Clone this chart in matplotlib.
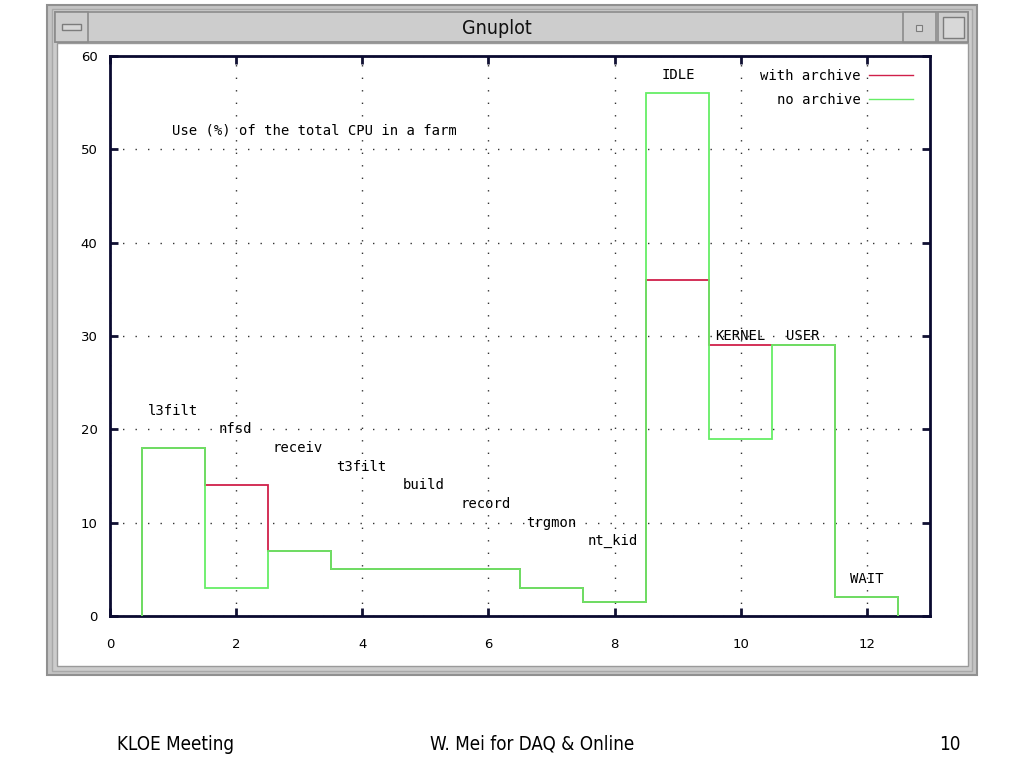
import numpy as np
import matplotlib
matplotlib.use("Agg")
import matplotlib.pyplot as plt
from matplotlib.patches import Rectangle
from matplotlib.lines import Line2D

# CPU use per process (%), one bin per process, centred on 1..12
processes = ["l3filt", "nfsd", "receiv", "t3filt", "build", "record",
             "trgmon", "nt_kid", "IDLE", "KERNEL", "USER", "WAIT"]
bins = np.arange(1, 13)
with_archive = [18, 14, 7, 5, 5, 5, 3, 1.5, 36, 29, 29, 2]
no_archive = [18, 3, 7, 5, 5, 5, 3, 1.5, 56, 19, 29, 2]

# where gnuplot put the process names (data coords, left aligned)
label_x = [0.6, 1.73, 2.57, 3.58, 4.64, 5.55, 6.59, 7.57, 8.75, 9.59, 10.71, 11.73]
label_y = [22, 20, 18, 16, 14, 12, 10, 8, 58, 30, 30, 4]

RED = "#d0204a"
GREEN = "#66ee66"
MONO = "DejaVu Sans Mono"

fig = plt.figure(figsize=(10.24, 7.68), dpi=100)
fig.patch.set_facecolor("white")

# --- window decoration, drawn in pixel coords ---
bg = fig.add_axes([0, 0, 1, 1])
bg.set_xlim(0, 1024)
bg.set_ylim(768, 0)
bg.axis("off")


def box(x0, y0, x1, y1, fc, ec="#8a8a8a", lw=1.2, z=1):
    bg.add_patch(Rectangle((x0, y0), x1 - x0, y1 - y0, facecolor=fc,
                           edgecolor=ec, linewidth=lw, zorder=z))


box(47, 5, 977, 675, "#c4c4c4", ec="#909090", lw=1.5)
box(52, 9, 972, 671, "#cccccc", ec="#a8a8a8", lw=1.0)
box(57, 43, 968, 666, "white", ec="#9a9a9a", lw=1.0, z=2)
box(55, 12, 968, 42, "#cdcdcd", ec="#8c8c8c", lw=1.2, z=2)
box(55, 12, 88, 42, "#cdcdcd", ec="#8c8c8c", lw=1.2, z=3)
box(62, 24, 81, 30, "#d8d8d8", ec="#7c7c7c", lw=1.0, z=4)
box(903, 12, 936, 42, "#cdcdcd", ec="#8c8c8c", lw=1.2, z=3)
box(916, 25, 922, 31, "#d8d8d8", ec="#7c7c7c", lw=0.8, z=4)
box(938, 12, 968, 42, "#cdcdcd", ec="#8c8c8c", lw=1.2, z=3)
box(943, 17, 964, 38, "#d8d8d8", ec="#7c7c7c", lw=1.0, z=4)
bg.text(497, 28, "Gnuplot", ha="center", va="center", fontsize=14,
        family="DejaVu Sans", fontstretch="condensed", color="#111111",
        zorder=5)

# slide footer
footer = [("KLOE Meeting", 0.171), ("W. Mei for DAQ & Online", 0.520),
          ("10", 0.928)]
for txt, fx in footer:
    fig.text(fx, 0.031, txt, ha="center", va="center", fontsize=13.5,
             family="DejaVu Sans", fontstretch="condensed")

# --- the plot itself ---
ax = fig.add_axes([110 / 1024, 1 - 616 / 768, 820 / 1024, 560 / 768])
ax.set_xlim(0, 13)
ax.set_ylim(0, 60)
edges = np.append(bins - 0.5, bins[-1] + 0.5)

ax.stairs(with_archive, edges, baseline=0, color=RED, linewidth=1.3,
          label="with archive", zorder=3)
ax.stairs(no_archive, edges, baseline=0, color=GREEN, linewidth=1.3,
          label="no archive", zorder=4)

ax.set_xticks(np.arange(0, 13, 2))
ax.set_yticks(np.arange(0, 61, 10))
ax.grid(True, color="#333333", linestyle=(0, (1, 8)), linewidth=1.0)
ax.tick_params(direction="in", length=6, width=2, top=True, right=True,
               labelsize=9.5, pad=16, colors="#111133")
ax.tick_params(axis="y", pad=9)
for lab in ax.get_xticklabels() + ax.get_yticklabels():
    lab.set_color("black")
for s in ax.spines.values():
    s.set_linewidth(2)
    s.set_color("#0a0a30")

for name, x, y in zip(processes, label_x, label_y):
    ax.text(x, y, name, ha="left", va="center", fontsize=10, family=MONO,
            zorder=5)
ax.text(0.98, 52, "Use (%) of the total CPU in a farm", ha="left",
        va="center", fontsize=10, family=MONO)

handles = [Line2D([], [], color=RED, linewidth=1.0),
           Line2D([], [], color=GREEN, linewidth=1.0)]
ax.legend(handles, ["with archive", "no archive"], loc="upper right",
          bbox_to_anchor=(0.995, 1.0), frameon=False, markerfirst=False,
          handlelength=3.2, handletextpad=0.6, labelspacing=0.75,
          prop={"family": MONO, "size": 10})

fig.savefig("out.png", dpi=100)
